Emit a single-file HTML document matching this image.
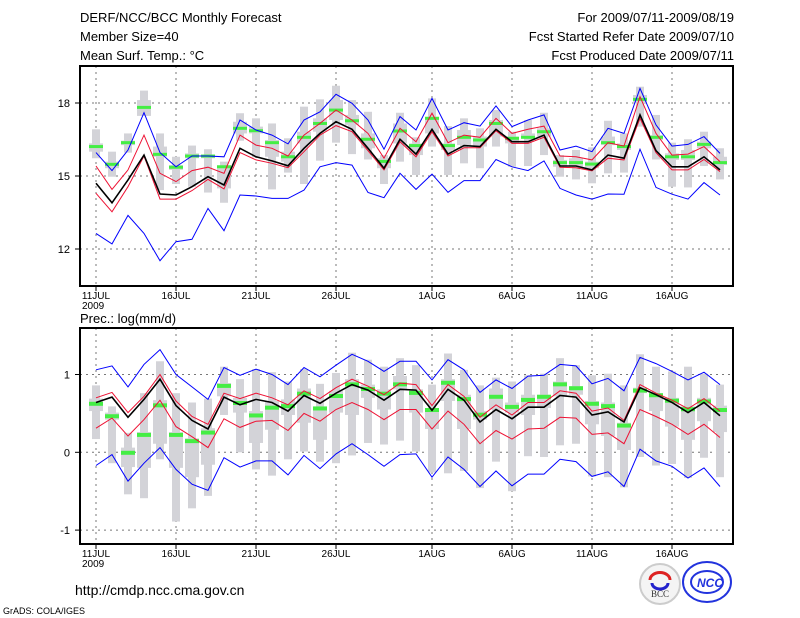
<!DOCTYPE html>
<html><head><meta charset="utf-8">
<style>
html,body{margin:0;padding:0;background:#fff;}
svg{display:block;font-family:"Liberation Sans",sans-serif;}
</style></head>
<body>
<svg id="chart" width="800" height="618" viewBox="0 0 800 618" xmlns="http://www.w3.org/2000/svg">
<g font-size="13" fill="#000">
<text x="80" y="22">DERF/NCC/BCC Monthly Forecast</text>
<text x="80" y="41">Member Size=40</text>
<text x="80" y="60">Mean Surf. Temp.: °C</text>
<text x="734" y="22" text-anchor="end">For 2009/07/11-2009/08/19</text>
<text x="734" y="41" text-anchor="end">Fcst Started Refer Date 2009/07/10</text>
<text x="734" y="60" text-anchor="end">Fcst Produced Date 2009/07/11</text>
<text x="80" y="323">Prec.: log(mm/d)</text>
</g>
<g id="top"></g>
<g id="bot"></g>
<text x="75" y="595" font-size="14">http://cmdp.ncc.cma.gov.cn</text>
<text x="3" y="614" font-size="9">GrADS: COLA/IGES</text>
<g>
<circle cx="660" cy="584" r="20" fill="#f4f4f4" stroke="#ccc" stroke-width="2"/>
<path d="M650 580 a8 6 0 0 1 20 0" fill="none" stroke="#d22" stroke-width="3"/>
<path d="M652 583 a8 6 0 0 0 16 0" fill="none" stroke="#22c" stroke-width="3"/>
<text x="660" y="597" font-size="9" font-family="Liberation Serif,serif" text-anchor="middle" fill="#333">BCC</text>
</g>
<g>
<ellipse cx="707" cy="582" rx="24" ry="20" fill="#fff" stroke="#2233dd" stroke-width="2"/>
<ellipse cx="707" cy="582" rx="16" ry="11" fill="none" stroke="#2233dd" stroke-width="2"/>
<text x="710" y="587" font-size="12" font-weight="bold" font-style="italic" text-anchor="middle" fill="#2233dd">NCC</text>
</g>
</svg>
<script>
const dayLabels=["11JUL","16JUL","21JUL","26JUL","1AUG","6AUG","11AUG","16AUG"];
const dayLabelIdx=[0,5,10,15,21,26,31,36];
const tTicks=[12,15,18];
const pTicks=[-1,0,1];
// Temperature series (deg C), 40 days 11JUL..19AUG
const tBlueHi=[15.96,15.22,16.07,17.60,15.96,15.38,15.82,15.82,15.79,17.30,16.89,16.68,16.32,17.30,17.64,18.36,17.99,17.30,16.10,17.44,16.89,18.19,16.89,17.19,17.05,17.88,17.03,17.30,17.51,16.07,16.23,16.00,16.96,16.75,18.60,17.10,16.23,16.30,16.62,15.93];
const tRedHi=[15.41,14.45,15.25,16.68,15.11,14.77,15.22,15.36,15.11,16.68,16.27,16.14,15.82,16.68,17.16,17.71,17.30,16.75,15.73,16.96,16.41,17.58,16.37,16.68,16.59,17.37,16.75,16.92,17.05,15.82,15.79,15.66,16.37,16.23,18.26,16.75,15.86,15.90,16.21,15.59];
const tMean=[14.70,13.90,14.84,15.86,14.26,14.22,14.56,14.97,14.63,16.14,15.79,15.62,15.42,16.14,16.75,17.23,16.92,16.14,15.32,16.51,15.90,16.92,15.90,16.25,16.21,16.92,16.41,16.41,16.68,15.41,15.41,15.25,15.86,15.73,17.51,16.04,15.38,15.38,15.79,15.25];
const tRedLo=[14.29,13.53,14.56,15.82,14.05,14.05,14.40,14.86,14.47,15.96,15.66,15.52,15.34,16.00,16.68,17.07,16.82,16.04,15.25,16.41,15.79,16.82,15.82,16.16,16.16,16.86,16.34,16.34,16.59,15.36,15.34,15.21,15.73,15.66,17.37,15.96,15.25,15.25,15.68,15.18];
const tBlueLo=[12.64,12.21,13.38,12.64,11.52,12.30,12.40,13.67,12.75,14.22,14.18,14.08,14.08,14.42,15.38,15.55,15.45,14.32,14.11,15.11,14.45,15.08,14.33,14.81,14.81,15.68,15.38,15.22,15.62,14.49,14.22,14.05,14.26,14.25,16.10,14.53,14.25,14.05,14.73,14.22];
const tMedian=[16.21,15.48,16.37,17.82,15.89,15.36,15.82,15.82,15.38,16.96,16.86,16.37,15.79,16.59,17.16,17.71,17.27,16.51,15.60,16.85,16.25,17.37,16.25,16.59,16.48,17.16,16.55,16.59,16.82,15.55,15.55,15.49,16.37,16.21,18.15,16.59,15.79,15.79,16.30,15.55];
const tMax=[16.92,16.00,16.75,18.51,16.75,15.79,16.25,16.10,15.59,17.58,17.37,17.16,16.55,17.85,18.15,18.71,18.12,17.64,15.86,17.60,16.59,18.19,17.05,17.37,16.96,17.71,16.82,17.30,17.60,15.86,16.07,16.18,17.27,16.75,18.67,17.51,16.37,16.51,16.82,16.14];
const tMin=[15.73,14.97,15.96,17.47,14.42,14.67,14.56,14.32,13.90,16.45,15.77,14.45,15.14,14.67,15.63,16.37,15.90,15.68,14.67,15.59,15.04,16.21,15.04,15.52,15.32,16.21,15.38,15.41,15.86,14.97,14.86,14.70,15.11,15.14,17.03,15.68,14.56,14.53,15.41,14.86];
const tQ3=[16.34,15.59,16.45,18.12,16.21,15.45,15.93,15.86,15.38,17.23,17.03,16.48,16.00,16.82,17.37,18.12,17.51,16.75,15.73,17.16,16.34,17.44,16.34,16.89,16.62,17.30,16.62,16.75,16.96,15.66,15.73,15.59,16.62,16.34,18.33,16.68,15.93,16.07,16.41,15.79];
const tQ1=[16.00,15.32,16.27,17.47,15.79,15.25,15.73,15.73,14.49,16.75,16.75,15.79,15.59,16.34,16.82,17.30,17.10,16.14,15.32,16.34,15.86,16.75,16.07,16.27,16.21,16.62,16.34,16.55,16.62,15.38,15.38,15.32,16.27,16.07,17.99,16.48,15.66,15.66,16.14,15.45];
// Precipitation series log(mm/d)
const pBlueHi=[1.06,1.11,0.84,1.13,1.32,1.00,0.84,0.68,1.09,0.99,1.07,1.00,0.87,1.09,0.97,1.12,1.26,1.17,1.04,1.17,1.17,0.93,1.19,1.06,0.77,0.93,0.82,0.98,0.99,1.13,1.11,0.88,0.95,0.79,1.22,1.14,1.04,0.93,1.03,0.87];
const pRedHi=[0.70,0.77,0.51,0.72,1.00,0.66,0.46,0.36,0.76,0.69,0.76,0.70,0.61,0.79,0.69,0.83,0.94,0.85,0.74,0.89,0.87,0.60,0.87,0.72,0.45,0.61,0.48,0.64,0.64,0.79,0.76,0.53,0.57,0.41,0.87,0.76,0.67,0.56,0.69,0.53];
const pMean=[0.64,0.71,0.45,0.68,0.94,0.60,0.41,0.30,0.71,0.61,0.68,0.64,0.53,0.73,0.63,0.76,0.87,0.80,0.67,0.81,0.80,0.54,0.81,0.67,0.39,0.55,0.43,0.58,0.58,0.73,0.71,0.48,0.52,0.39,0.83,0.74,0.64,0.51,0.64,0.47];
const pRedLo=[0.31,0.44,0.21,0.42,0.67,0.33,0.20,0.06,0.43,0.32,0.40,0.41,0.28,0.50,0.40,0.55,0.64,0.55,0.42,0.55,0.55,0.30,0.53,0.36,0.11,0.28,0.17,0.30,0.31,0.45,0.44,0.23,0.25,0.11,0.55,0.46,0.36,0.23,0.36,0.19];
const pBlueLo=[-0.17,-0.03,-0.37,-0.14,0.06,-0.22,-0.41,-0.49,-0.07,-0.19,-0.11,-0.11,-0.29,-0.04,-0.21,-0.02,0.11,-0.03,-0.18,-0.03,-0.02,-0.32,-0.06,-0.22,-0.44,-0.24,-0.43,-0.28,-0.28,-0.09,-0.12,-0.31,-0.25,-0.44,0.04,-0.11,-0.18,-0.33,-0.20,-0.44];
const pMedian=[0.63,0.47,0.00,0.23,0.61,0.23,0.15,0.26,0.86,0.64,0.48,0.58,0.60,0.76,0.57,0.73,0.88,0.82,0.76,0.88,0.77,0.55,0.90,0.69,0.49,0.72,0.59,0.68,0.72,0.88,0.83,0.63,0.60,0.35,0.80,0.74,0.67,0.56,0.66,0.55];
const pMax=[0.86,0.59,0.25,0.76,1.17,0.76,0.64,0.69,1.10,0.94,1.07,1.03,0.91,1.07,0.88,1.02,1.28,1.19,1.10,1.21,1.12,0.87,1.27,1.06,0.86,0.96,0.91,0.99,1.01,1.21,1.12,0.99,1.01,0.86,1.26,1.10,1.04,1.10,1.01,0.87];
const pMin=[0.17,-0.14,-0.54,-0.59,-0.09,-0.89,-0.72,-0.56,0.48,0.00,-0.22,-0.30,-0.09,0.01,-0.12,-0.14,-0.04,0.12,0.10,0.15,0.01,-0.26,-0.27,-0.24,-0.46,-0.12,-0.50,-0.05,-0.06,0.09,0.11,-0.31,-0.32,-0.45,-0.06,-0.17,-0.15,-0.33,-0.07,-0.32];
const pQ3=[0.69,0.51,0.06,0.26,0.67,0.26,0.18,0.31,0.89,0.70,0.53,0.66,0.68,0.82,0.59,0.79,0.94,0.87,0.81,0.98,0.81,0.55,0.94,0.74,0.53,0.82,0.64,0.74,0.74,0.91,0.85,0.66,0.64,0.38,0.83,0.76,0.70,0.59,0.70,0.60];
const pQ1=[0.53,0.42,-0.19,-0.20,0.11,-0.20,-0.32,-0.16,0.72,0.51,0.12,0.29,0.48,0.38,0.16,0.51,0.48,0.70,0.55,0.81,0.51,0.30,0.66,0.30,0.42,0.55,0.51,0.48,0.57,0.72,0.74,0.36,0.21,0.03,0.76,0.53,0.33,0.16,0.40,0.26];

const NS="http://www.w3.org/2000/svg";
const X0=80,X1=733;
function xs(i){return 96+16*i;}
function mk(parent,tag,attrs){const e=document.createElementNS(NS,tag);for(const k in attrs)e.setAttribute(k,attrs[k]);parent.appendChild(e);return e;}

function panel(g,top,bot,ys,ticks,s){
  // grid
  dayLabelIdx.forEach((d,k)=>{
    const l=mk(g,'line',{x1:xs(d),x2:xs(d),y1:top,y2:bot,stroke:'#777','stroke-dasharray':'2,4','stroke-width':1});
    
    
    const t=mk(g,'line',{x1:xs(d),x2:xs(d),y1:bot,y2:bot+5,stroke:'#000'});
    
    
    const tx=mk(g,'text',{x:xs(d),y:bot+13,'font-size':10,'text-anchor':'middle'});
    tx.textContent=dayLabels[k];
    
    
  });
  const yr=mk(g,'text',{x:82,y:bot+23,'font-size':10});
  yr.textContent='2009';
  
  
  ticks.forEach(v=>{
    const l=mk(g,'line',{x1:X0,x2:X1,y1:ys(v),y2:ys(v),stroke:'#777','stroke-dasharray':'2,4'});
    
    
    const t=mk(g,'line',{x1:X0-5,x2:X0,y1:ys(v),y2:ys(v),stroke:'#000'});
    
    
    const tx=mk(g,'text',{x:X0-10,y:ys(v)+4,'font-size':11,'text-anchor':'end'});
    tx.textContent=String(v);
    
    
  });
  // boxes
  for(let i=0;i<40;i++){
    const w=mk(g,'rect',{x:xs(i)-4,y:ys(s.mx[i]),width:8,height:ys(s.mn[i])-ys(s.mx[i]),fill:'#d3d3d8'});
    
    
    const b=mk(g,'rect',{x:xs(i)-7,y:ys(s.q3[i]),width:14,height:Math.max(1,ys(s.q1[i])-ys(s.q3[i])),fill:'#d3d3d8'});
    
    
  }
  for(let i=0;i<40;i++){
    const m=mk(g,'rect',{x:xs(i)-7,y:ys(s.med[i])-1.5,width:14,height:s.mh,fill:'#44ee44'});
    
    
  }
  const lines=[[s.bl,'#0000ff',1,'blue-lower-line'],[s.bh,'#0000ff',1,'blue-upper-line'],[s.rl,'#ee1133',1,'red-lower-line'],[s.rh,'#ee1133',1,'red-upper-line'],[s.m,'#000',1.6,'ensemble-mean-line']];
  lines.forEach(([arr,c,sw,n])=>{
    const p=mk(g,'polyline',{points:arr.map((v,i)=>xs(i)+','+ys(v).toFixed(1)).join(' '),fill:'none',stroke:c,'stroke-width':sw});
    
    
  });
  const fr=mk(g,'rect',{x:X0,y:top,width:X1-X0,height:bot-top,fill:'none',stroke:'#000','stroke-width':2});
  
  
}
const yT=v=>176-(v-15)*24.33;
const yP=v=>452.3-v*77.8;
panel(document.getElementById('top'),66,286,yT,tTicks,{mx:tMax,mn:tMin,q3:tQ3,q1:tQ1,med:tMedian,bh:tBlueHi,rh:tRedHi,m:tMean,rl:tRedLo,bl:tBlueLo,mh:3});
panel(document.getElementById('bot'),328,544,yP,pTicks,{mx:pMax,mn:pMin,q3:pQ3,q1:pQ1,med:pMedian,bh:pBlueHi,rh:pRedHi,m:pMean,rl:pRedLo,bl:pBlueLo,mh:4});
</script>
</body></html>
